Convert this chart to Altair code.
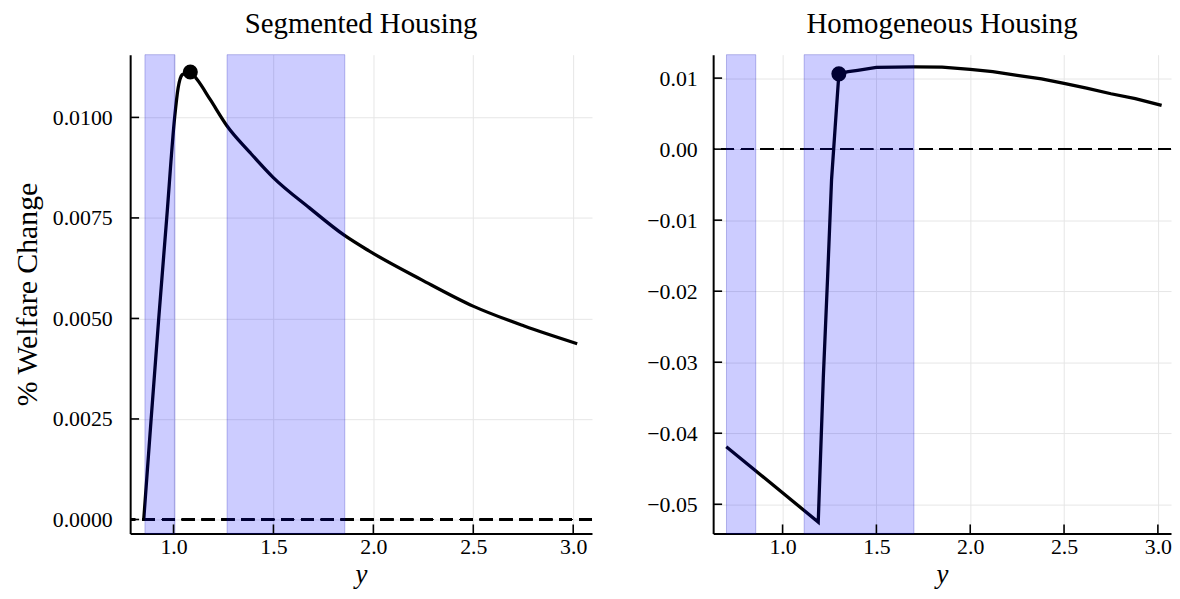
import altair as alt
import pandas as pd

FONT = "Liberation Serif"

# ---- Segmented Housing ----
seg_x = [0.851, 0.888, 0.926, 0.966, 1.006, 1.023, 1.043, 1.06, 1.084, 1.118, 1.184, 1.266,
         1.382, 1.498, 1.68, 1.854, 1.978, 2.242, 2.502, 2.755, 3.02]
seg_y = [0.0, 0.0025, 0.005, 0.0075, 0.01002, 0.01073, 0.01106, 0.0111, 0.01113, 0.01094,
         0.01044, 0.0098, 0.00913, 0.00851, 0.00775, 0.00707, 0.00668, 0.00596, 0.0053,
         0.00481, 0.00437]
seg_band_lo = [0.857, 1.268]
seg_band_hi = [1.007, 1.857]
seg_dot_x = [1.084]
seg_dot_y = [0.01113]
seg_yticks = [0.0, 0.0025, 0.005, 0.0075, 0.01]

# ---- Homogeneous Housing ----
hom_x = [0.70, 1.19, 1.217, 1.24, 1.261, 1.28, 1.30, 1.32, 1.35, 1.4, 1.5, 1.6, 1.7, 1.85,
         2.0, 2.12, 2.25, 2.38, 2.5, 2.62, 2.75, 2.88, 3.02]
hom_y = [-0.0419, -0.0525, -0.0322, -0.018, -0.0043, 0.0030, 0.0106, 0.01075, 0.0109,
         0.0111, 0.0115, 0.01155, 0.01158, 0.01155, 0.01122, 0.0109, 0.0104, 0.0099, 0.00926,
         0.0086, 0.0078, 0.0071, 0.00617]
hom_band_lo = [0.701, 1.115]
hom_band_hi = [0.857, 1.70]
hom_dot_x = [1.30]
hom_dot_y = [0.0106]
hom_yticks = [-0.05, -0.04, -0.03, -0.02, -0.01, 0.0, 0.01]

xticks = [1.0, 1.5, 2.0, 2.5, 3.0]


def panel(title, xs, ys, blo, bhi, dx, dy, xdom, ydom, yticks, yfmt, ytitle, W, H, interp):
    xscale = alt.Scale(domain=xdom, nice=False, zero=False)
    yscale = alt.Scale(domain=ydom, nice=False, zero=False)
    xaxis = alt.Axis(values=xticks, format=".1f", title="y", titleFontStyle="italic",
                     labelPadding=3, titlePadding=4, grid=True, titleFontSize=27)
    if ytitle:
        yaxis = alt.Axis(values=yticks, format=yfmt, title=ytitle, labelPadding=18,
                         titlePadding=10, grid=True)
    else:
        yaxis = alt.Axis(values=yticks, format=yfmt, title=None, labelPadding=16, grid=True)

    line_df = pd.DataFrame({"x": xs, "v": ys})
    band_df = pd.DataFrame({"x": blo, "x2": bhi})
    dot_df = pd.DataFrame({"x": dx, "v": dy})
    xt_df = pd.DataFrame({"x": xticks})
    yt_df = pd.DataFrame({"v": yticks})

    X = alt.X("x:Q", scale=xscale, axis=xaxis)
    Y = alt.Y("v:Q", scale=yscale, axis=yaxis)

    zero = alt.Chart(line_df).mark_rule(color="black", strokeWidth=1.6,
                                        strokeDash=[13, 7]).encode(
        y=alt.datum(0, scale=yscale, axis=yaxis))
    line = alt.Chart(line_df).mark_line(color="black", strokeWidth=3.3,
                                        interpolate=interp).encode(
        x=X, y=Y, order=alt.Order("x:Q"))
    dot = alt.Chart(dot_df).mark_circle(color="black", opacity=1, size=230).encode(x=X, y=Y)
    bands = alt.Chart(band_df).mark_rect(fill="#0000ff", fillOpacity=0.2, stroke="#0000aa",
                                         strokeOpacity=0.25, strokeWidth=1).encode(
        x=X, x2="x2:Q", y=alt.value(0), y2=alt.value(H))
    xt = alt.Chart(xt_df).mark_rule(color="black", strokeWidth=1.6).encode(
        x=X, y=alt.value(H), y2=alt.value(H - 9))
    yt = alt.Chart(yt_df).mark_rule(color="black", strokeWidth=1.6).encode(
        y=Y, x=alt.value(0), x2=alt.value(9))

    return alt.layer(zero, line, dot, bands, xt, yt).properties(
        width=W, height=H, title=title)


H = 482
left = panel("Segmented Housing", seg_x, seg_y, seg_band_lo, seg_band_hi, seg_dot_x,
             seg_dot_y, [0.783, 3.094], [-0.000346, 0.01156], seg_yticks, ".4f",
             "% Welfare Change", 465, H, "monotone")
right = panel("Homogeneous Housing", hom_x, hom_y, hom_band_lo, hom_band_hi, hom_dot_x,
              hom_dot_y, [0.630, 3.07], [-0.0541, 0.0133], hom_yticks, ".2f", None, 461, H,
              "linear")

chart = alt.hconcat(left, right, spacing=54).properties(
    padding={"left": 4, "top": 0, "right": 0, "bottom": 0}
).configure_view(stroke=None).configure_axis(
    labelFont=FONT, titleFont=FONT, labelFontSize=22, titleFontSize=30,
    labelColor="black", titleColor="black", titleFontWeight="normal",
    domainColor="black", domainWidth=2, gridColor="#e6e6e6", gridWidth=1, ticks=False
).configure_title(
    font=FONT, fontSize=29, fontWeight="normal", color="black", offset=15, anchor="middle"
)

chart.save("out.html", embed_options={"renderer": "svg", "actions": False})
